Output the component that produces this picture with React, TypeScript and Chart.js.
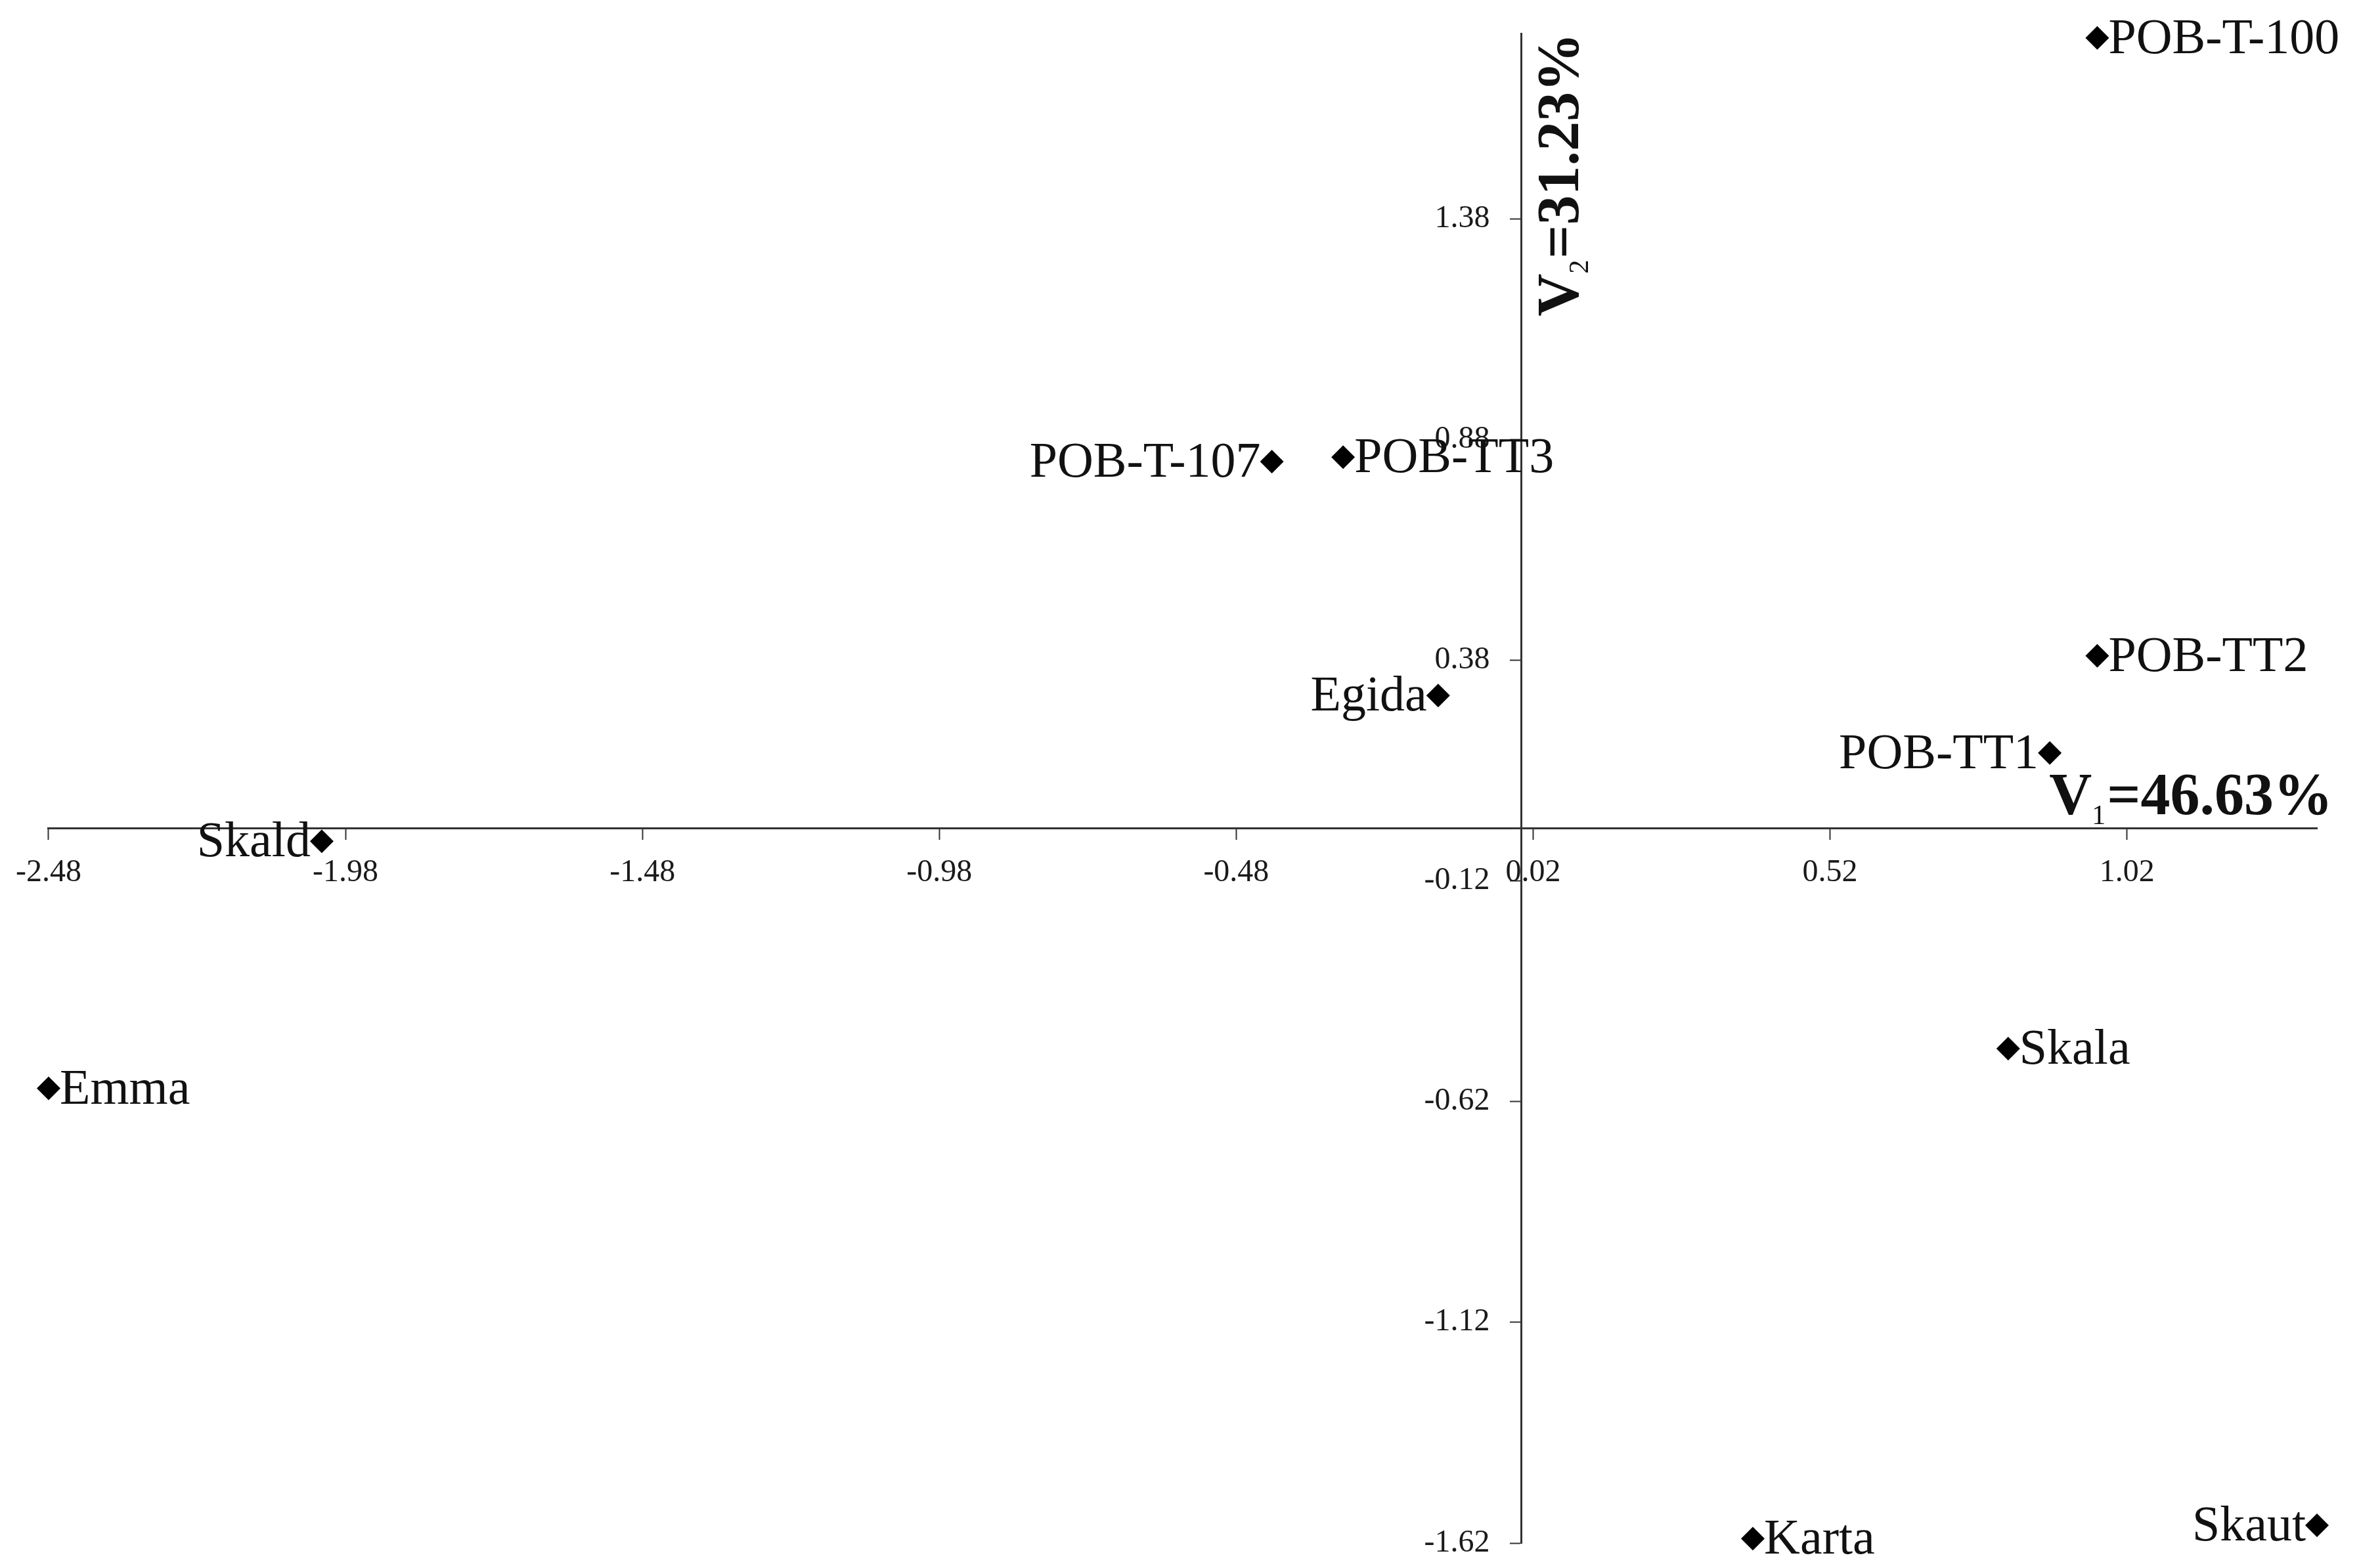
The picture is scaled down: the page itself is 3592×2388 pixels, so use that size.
import React, { useEffect, useRef } from "react";
import { Chart, registerables } from "chart.js";

Chart.register(...registerables);

// ---- data ----
const cultivars = [
  "POB-T-100",
  "POB-T-107",
  "POB-TT3",
  "Egida",
  "POB-TT2",
  "POB-TT1",
  "Skald",
  "Emma",
  "Skala",
  "Karta",
  "Skaut",
];
const v1Scores = [0.97, -0.42, -0.3, -0.14, 0.97, 0.89, -2.02, -2.48, 0.82, 0.39, 1.34];
const v2Scores = [1.79, 0.83, 0.84, 0.3, 0.39, 0.17, -0.03, -0.59, -0.5, -1.61, -1.58];
const labelSide = ["right", "left", "right", "left", "right", "left", "left", "right", "right", "right", "left"];

const xTicks = [-2.48, -1.98, -1.48, -0.98, -0.48, 0.02, 0.52, 1.02];
const yTicks = [-1.62, -1.12, -0.62, -0.12, 0.38, 0.88, 1.38];
const xRange = [-2.48, 1.34];
const yRange = [-1.62, 1.8];

const xTitleParts = ["V", "1", "=46.63%"];
const yTitleParts = ["V", "2", "=31.23%"];

const SERIF = "'Times New Roman', 'Liberation Serif', serif";
// gap between the vertical axis and its tick labels (axis is centred, so Chart.js puts labels flush)
const Y_LABEL_GAP = "    ";

function measureParts(ctx: CanvasRenderingContext2D, parts: string[]) {
  ctx.font = `bold 90px ${SERIF}`;
  const w0 = ctx.measureText(parts[0]).width;
  ctx.font = `42px ${SERIF}`;
  const w1 = ctx.measureText(parts[1]).width;
  ctx.font = `bold 90px ${SERIF}`;
  const w2 = ctx.measureText(parts[2]).width;
  return { w0, w1, w2, total: w0 + w1 + 2 + w2 };
}

function drawParts(ctx: CanvasRenderingContext2D, parts: string[], x: number, y: number) {
  const m = measureParts(ctx, parts);
  ctx.textAlign = "left";
  ctx.textBaseline = "alphabetic";
  ctx.font = `bold 90px ${SERIF}`;
  ctx.fillText(parts[0], x, y);
  ctx.font = `42px ${SERIF}`;
  ctx.fillText(parts[1], x + m.w0, y + 15);
  ctx.font = `bold 90px ${SERIF}`;
  ctx.fillText(parts[2], x + m.w0 + m.w1 + 2, y);
}

const pointLabelsPlugin = {
  id: "pointLabels",
  afterDatasetsDraw(chart: any) {
    const ctx: CanvasRenderingContext2D = chart.ctx;
    const meta = chart.getDatasetMeta(0);
    ctx.save();
    ctx.font = `76px ${SERIF}`;
    ctx.fillStyle = "#111";
    ctx.textBaseline = "middle";
    meta.data.forEach((el: any, i: number) => {
      const left = labelSide[i] === "left";
      ctx.textAlign = left ? "right" : "left";
      ctx.fillText(cultivars[i], el.x + (left ? -17 : 17), el.y + 3);
    });
    ctx.restore();
  },
};

const axisTitlesPlugin = {
  id: "axisTitles",
  afterDraw(chart: any) {
    const ctx: CanvasRenderingContext2D = chart.ctx;
    const area = chart.chartArea;
    const xs = chart.scales.x;
    const ys = chart.scales.y;
    const x0 = xs.getPixelForValue(0);
    const y0 = ys.getPixelForValue(0);
    ctx.save();
    ctx.fillStyle = "#111";
    // horizontal axis title
    const mx = measureParts(ctx, xTitleParts);
    drawParts(ctx, xTitleParts, area.right + 24 - mx.total, y0 - 21);
    // vertical axis title (rotated)
    const my = measureParts(ctx, yTitleParts);
    ctx.translate(x0 + 87, area.top - 1 + my.total);
    ctx.rotate(-Math.PI / 2);
    drawParts(ctx, yTitleParts, 0, 0);
    ctx.restore();
  },
};

export default function App() {
  const canvasRef = useRef<HTMLCanvasElement | null>(null);

  useEffect(() => {
    const canvas = canvasRef.current;
    if (!canvas) return;
    const points = v1Scores.map((v, i) => ({ x: v, y: v2Scores[i] }));
    const chart = new Chart(canvas, {
      type: "scatter",
      data: {
        datasets: [
          {
            label: "cultivars",
            data: points,
            pointStyle: "rectRot",
            pointRadius: 18,
            pointHoverRadius: 18,
            backgroundColor: "#000",
            borderColor: "#000",
            borderWidth: 0,
            clip: false,
          } as any,
        ],
      },
      options: {
        responsive: false,
        animation: false,
        devicePixelRatio: 1,
        layout: { padding: { left: 70, top: 51, right: 64, bottom: 38 } },
        plugins: {
          legend: { display: false },
          tooltip: { enabled: false },
        },
        scales: {
          x: {
            type: "linear",
            min: xRange[0],
            max: xRange[1],
            position: { y: 0 } as any,
            afterBuildTicks: (scale: any) => {
              scale.ticks = xTicks.map((v) => ({ value: v }));
            },
            ticks: {
              callback: (v: any) => Number(v).toFixed(2),
              font: { family: SERIF, size: 48 },
              color: "#1a1a1a",
              padding: 24,
              autoSkip: false,
              maxRotation: 0,
            },
            grid: {
              drawOnChartArea: false,
              drawTicks: true,
              tickLength: 16,
              tickWidth: 2,
              tickColor: "#333",
              color: "#333",
            },
            border: { display: true, color: "#333", width: 3 },
          },
          y: {
            type: "linear",
            min: yRange[0],
            max: yRange[1],
            position: { x: 0 } as any,
            afterBuildTicks: (scale: any) => {
              scale.ticks = yTicks.map((v) => ({ value: v }));
            },
            ticks: {
              callback: (v: any) => Number(v).toFixed(2) + Y_LABEL_GAP,
              font: { family: SERIF, size: 48 },
              color: "#1a1a1a",
              padding: 0,
              autoSkip: false,
            },
            grid: {
              drawOnChartArea: false,
              drawTicks: true,
              tickLength: 16,
              tickWidth: 2,
              tickColor: "#333",
              color: "#333",
            },
            border: { display: true, color: "#333", width: 3 },
          },
        },
      },
      plugins: [pointLabelsPlugin, axisTitlesPlugin],
    });
    return () => chart.destroy();
  }, []);

  return (
    <div style={{ position: "absolute", left: 0, top: 0, width: 3592, height: 2388, background: "#fff" }}>
      <canvas ref={canvasRef} width={3592} height={2388} style={{ display: "block", width: 3592, height: 2388 }} />
    </div>
  );
}
